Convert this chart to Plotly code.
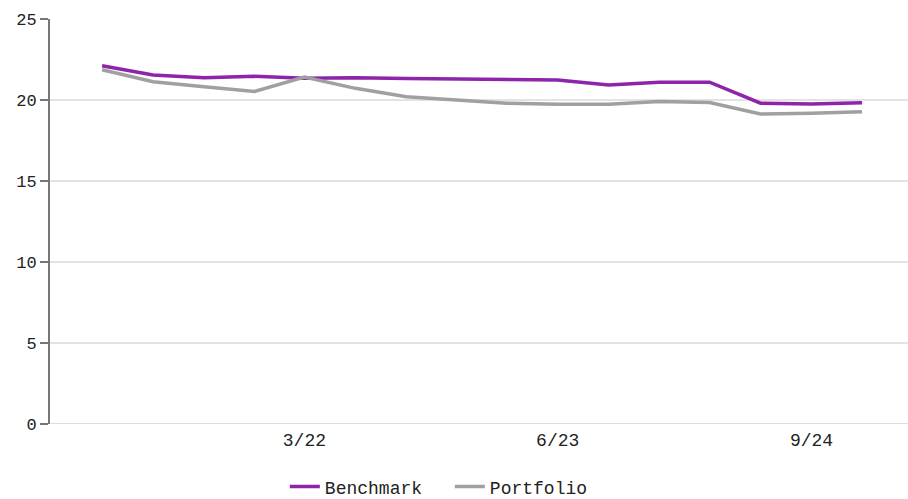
import plotly.graph_objects as go

dates = ["2021-03-01", "2021-06-01", "2021-09-01", "2021-12-01",
         "2022-03-01", "2022-06-01", "2022-09-01", "2022-12-01",
         "2023-03-01", "2023-06-01", "2023-09-01", "2023-12-01",
         "2024-03-01", "2024-06-01", "2024-09-01", "2024-12-01"]
benchmark = [22.12, 21.54, 21.38, 21.46, 21.34, 21.38, 21.32, 21.30,
             21.25, 21.23, 20.93, 21.10, 21.10, 19.80, 19.75, 19.83]
portfolio = [21.87, 21.13, 20.82, 20.53, 21.42, 20.72, 20.20, 20.00,
             19.80, 19.73, 19.73, 19.90, 19.85, 19.14, 19.18, 19.28]
tick_vals = ["2022-03-01", "2023-06-01", "2024-09-01"]
tick_text = ["3/22", "6/23", "9/24"]
y_ticks = [0, 5, 10, 15, 20, 25]

FONT = "Liberation Mono, DejaVu Sans Mono, monospace"

fig = go.Figure()
fig.add_trace(go.Scatter(x=dates, y=benchmark, name="Benchmark", mode="lines",
                         line=dict(color="#8E24AA", width=3.5)))
fig.add_trace(go.Scatter(x=dates, y=portfolio, name="Portfolio", mode="lines",
                         line=dict(color="#A0A0A0", width=3.5)))

fig.update_layout(
    width=908, height=499,
    margin=dict(l=50, r=0, t=19, b=75, autoexpand=False),
    paper_bgcolor="white", plot_bgcolor="white",
    font=dict(family=FONT, size=18, color="#222222"),
    showlegend=True,
    legend=dict(orientation="h", x=0.466, xanchor="center", y=-0.155, yanchor="middle",
                font=dict(family=FONT, size=18, color="#222222"),
                itemwidth=30, tracegroupgap=0, entrywidth=120, entrywidthmode="pixels"),
    xaxis=dict(type="date", range=["2020-11-27", "2025-02-22"],
               tickvals=tick_vals, ticktext=tick_text, automargin=False,
               showgrid=False, zeroline=False, showline=False, ticks="",
               ticklabelstandoff=3, tickfont=dict(size=18)),
    yaxis=dict(range=[0, 25], tickvals=y_ticks, automargin=False,
               showgrid=True, gridcolor="#E3E3E3", gridwidth=1.5,
               zeroline=False, showline=True, linecolor="#777777", linewidth=2,
               ticks="outside", ticklen=8, tickcolor="#777777", tickwidth=1.5,
               tickfont=dict(size=17)),
)
fig.add_hline(y=0, line=dict(color="#DDDDDD", width=2), layer="below")

fig.write_html("out.html", config={"displayModeBar": False},
               post_script="document.body.style.margin='0';document.body.style.padding='0';")
